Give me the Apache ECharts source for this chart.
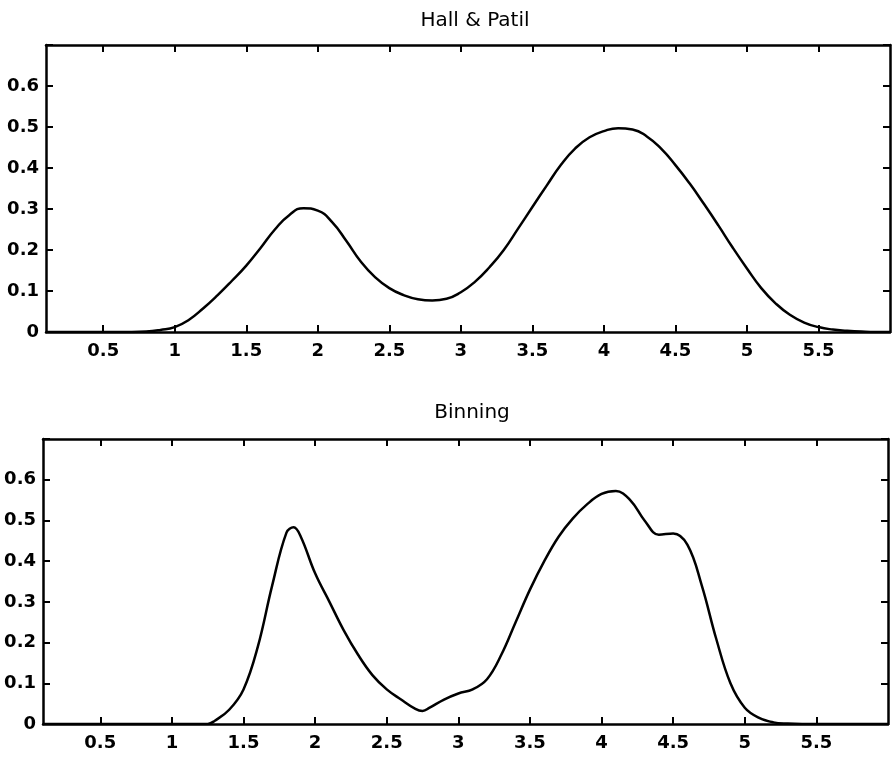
<!DOCTYPE html>
<html>
<head>
<meta charset="utf-8">
<script src="https://cdn.jsdelivr.net/npm/echarts@6/dist/echarts.min.js"></script>
<style>
  html, body { margin: 0; padding: 0; background: #ffffff; }
  #chart { width: 894px; height: 759px; }
</style>
</head>
<body>
<div id="chart"></div>
<script>
// x positions of the sampled points
var xHall = [0.1, 0.3, 0.5, 0.7, 0.8, 0.9, 1.0, 1.1, 1.2, 1.3, 1.4, 1.5, 1.6, 1.7, 1.8, 1.9, 2.0,
    2.1, 2.2, 2.3, 2.4, 2.5, 2.6, 2.7, 2.8, 2.9, 3.0, 3.1, 3.2, 3.3, 3.4, 3.5, 3.6, 3.7, 3.8,
    3.9, 4.0, 4.1, 4.2, 4.3, 4.4, 4.5, 4.6, 4.7, 4.8, 4.9, 5.0, 5.1, 5.2, 5.3, 5.4, 5.5, 5.6,
    5.7, 5.8, 5.9, 6.0];
var yHall = [0, 0, 0, 0, 0.001, 0.005, 0.012, 0.03, 0.058, 0.09, 0.125, 0.162, 0.205, 0.25, 0.285, 0.302, 0.296,
    0.268, 0.222, 0.172, 0.134, 0.107, 0.09, 0.08, 0.077, 0.081, 0.097, 0.123, 0.158, 0.2, 0.252, 0.305, 0.357, 0.408, 0.448,
    0.475, 0.49, 0.497, 0.494, 0.477, 0.447, 0.407, 0.362, 0.312, 0.26, 0.206, 0.155, 0.107, 0.07, 0.042, 0.023, 0.012, 0.006,
    0.003, 0.001, 0, 0];

var xBin = [0.1, 0.5, 1.0, 1.2, 1.25, 1.3, 1.4, 1.5, 1.6, 1.7, 1.8, 1.85, 1.9, 2.0, 2.1, 2.2, 2.3, 2.4,
    2.5, 2.6, 2.7, 2.75, 2.8, 2.9, 3.0, 3.1, 3.2, 3.3, 3.4, 3.5, 3.6, 3.7, 3.8, 3.9, 4.0, 4.1,
    4.2, 4.3, 4.4, 4.5, 4.6, 4.7, 4.8, 4.9, 5.0, 5.1, 5.2, 5.3, 5.4, 5.6, 6.0];
var yBin = [0, 0, 0, 0, 0, 0.008, 0.035, 0.085, 0.19, 0.34, 0.47, 0.483, 0.46, 0.37, 0.3, 0.23, 0.17, 0.12,
    0.085, 0.06, 0.037, 0.032, 0.04, 0.06, 0.075, 0.085, 0.11, 0.17, 0.25, 0.33, 0.4, 0.46, 0.505, 0.54, 0.565, 0.572,
    0.55, 0.5, 0.465, 0.468, 0.44, 0.34, 0.21, 0.1, 0.04, 0.015, 0.004, 0.001, 0, 0, 0];

var xTicks = [0.5, 1, 1.5, 2, 2.5, 3, 3.5, 4, 4.5, 5, 5.5];
var yLabels = [0, 0.1, 0.2, 0.3, 0.4, 0.5, 0.6];
var yTicks = [0, 0.1, 0.2, 0.3, 0.4, 0.5, 0.6, 0.7];

var titles = ['Hall & Patil', 'Binning'];

function Pairs(xs, ys) {
    let out = [];
    for (let i = 0; i < xs.length; i++) {
        out.push([xs[i], ys[i]]);
    }
    return out;
}

var fontName = 'DejaVu Sans';

//主坐标轴与镜像坐标轴
function MakeX(gridIndex, pos, withLabel) {
    return {
        gridIndex: gridIndex,
        type: 'value',
        position: pos,
        min: 0.1,
        max: 6,
        axisLine: {show: true, onZero: false, lineStyle: {color: '#000', width: 2.5}},
        axisTick: {show: true, inside: true, length: 7, customValues: xTicks, lineStyle: {color: '#000', width: 2}},
        axisLabel: {show: withLabel, customValues: xTicks, color: '#000', fontFamily: fontName, fontSize: 18, fontWeight: 'bold', margin: 10},
        splitLine: {show: false}
    };
}

function MakeY(gridIndex, pos, withLabel) {
    return {
        gridIndex: gridIndex,
        type: 'value',
        position: pos,
        min: 0,
        max: 0.7,
        axisLine: {show: true, onZero: false, lineStyle: {color: '#000', width: 2.5}},
        axisTick: {show: true, inside: true, length: 7, customValues: yTicks, lineStyle: {color: '#000', width: 2}},
        axisLabel: {show: withLabel, customValues: yLabels, color: '#000', fontFamily: fontName, fontSize: 18, fontWeight: 'bold', margin: 7},
        splitLine: {show: false}
    };
}

var chart = echarts.init(document.getElementById('chart'), null, {renderer: 'canvas'});

var option = {
    backgroundColor: '#ffffff',
    animation: false,
    title: [{
        text: titles[0], left: 470, top: 6, textAlign: 'center',
        textStyle: {fontFamily: fontName, fontSize: 20, fontWeight: 'normal', color: '#000'}
    }, {
        text: titles[1], left: 467, top: 398, textAlign: 'center',
        textStyle: {fontFamily: fontName, fontSize: 20, fontWeight: 'normal', color: '#000'}
    }],
    grid: [
        {left: 46, top: 45, width: 844, height: 287},
        {left: 43, top: 439, width: 845, height: 285}
    ],
    xAxis: [MakeX(0, 'bottom', true), MakeX(0, 'top', false), MakeX(1, 'bottom', true), MakeX(1, 'top', false)],
    yAxis: [MakeY(0, 'left', true), MakeY(0, 'right', false), MakeY(1, 'left', true), MakeY(1, 'right', false)],
    series: [{
        name: titles[0],
        type: 'line',
        xAxisIndex: 0,
        yAxisIndex: 0,
        smooth: 0.5,
        symbol: 'none',
        lineStyle: {color: '#000', width: 2.5},
        data: Pairs(xHall, yHall)
    }, {
        name: titles[1],
        type: 'line',
        xAxisIndex: 2,
        yAxisIndex: 2,
        smooth: 0.4,
        symbol: 'none',
        lineStyle: {color: '#000', width: 2.5},
        data: Pairs(xBin, yBin)
    }]
};

chart.setOption(option);
</script>
</body>
</html>
